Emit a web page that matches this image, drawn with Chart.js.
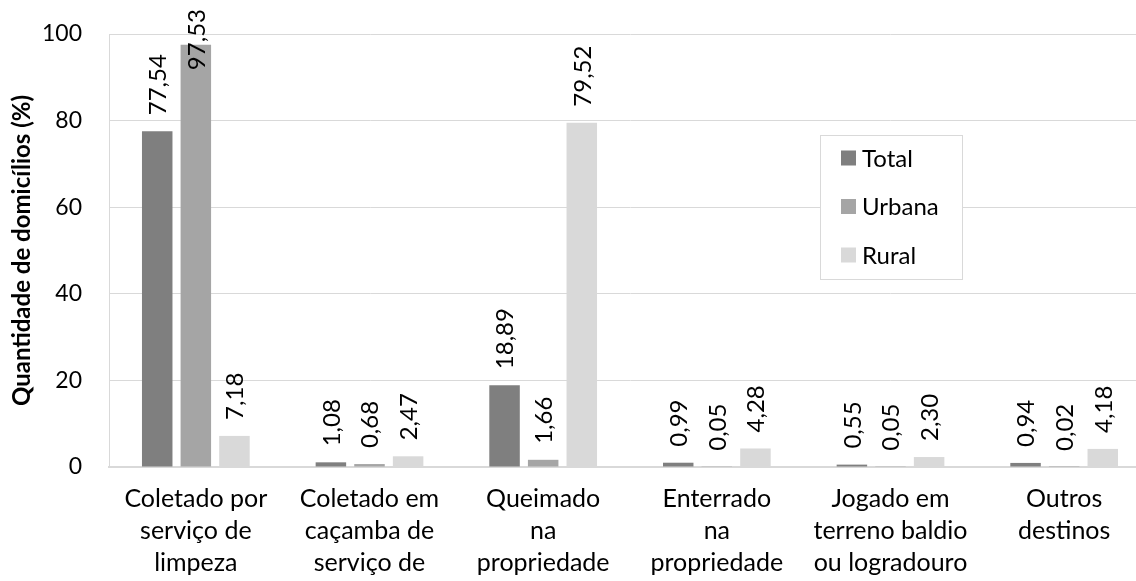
<!DOCTYPE html>
<html lang="pt-BR">
<head>
<meta charset="utf-8">
<title>Destino do lixo nos domicílios</title>
<script src="https://cdn.jsdelivr.net/npm/chart.js@4.4.1/dist/chart.umd.min.js"></script>
<style>
  html, body { margin: 0; padding: 0; background: #ffffff; overflow: hidden; }
  #wrap { position: relative; width: 1151px; height: 640px; }
</style>
</head>
<body>
<div id="wrap"><canvas id="chart" width="1151" height="640"></canvas></div>
<script>
// Destino do lixo (%), por situação do domicílio
const categories = [
  ['Coletado por', 'serviço de', 'limpeza'],
  ['Coletado em', 'caçamba de', 'serviço de', 'limpeza'],
  ['Queimado', 'na', 'propriedade'],
  ['Enterrado', 'na', 'propriedade'],
  ['Jogado em', 'terreno baldio', 'ou logradouro'],
  ['Outros', 'destinos']
];
const seriesNames = ['Total', 'Urbana', 'Rural'];
const totalValues  = [77.54, 1.08, 18.89, 0.99, 0.55, 0.94];
const urbanaValues = [97.53, 0.68, 1.66, 0.05, 0.05, 0.02];
const ruralValues  = [7.18, 2.47, 79.52, 4.28, 2.30, 4.18];
const yTicks = [0, 20, 40, 60, 80, 100];

const FONT = 'Lato, "Open Sans", "DejaVu Sans", sans-serif';
const colors = ['#7f7f7f', '#a5a5a5', '#d9d9d9'];

const fmt = v => v.toFixed(2).replace('.', ',');

// Rotated value labels above each bar, kept inside the canvas top
const valueLabels = {
  id: 'valueLabels',
  afterDatasetsDraw(chart) {
    const ctx = chart.ctx;
    ctx.save();
    ctx.font = '24px ' + FONT;
    ctx.fillStyle = '#000000';
    ctx.textAlign = 'left';
    ctx.textBaseline = 'middle';
    chart.data.datasets.forEach((ds, di) => {
      const meta = chart.getDatasetMeta(di);
      meta.data.forEach((bar, i) => {
        const txt = fmt(ds.data[i]);
        const w = ctx.measureText(txt).width;
        let start = bar.y - 16;
        if (start - w < 9) start = 9 + w;
        ctx.save();
        ctx.translate(bar.x + 1, start);
        ctx.rotate(-Math.PI / 2);
        ctx.fillText(txt, 0, 0);
        ctx.restore();
      });
    });
    ctx.restore();
  }
};

// Boxed legend inside the plot area
const boxLegend = {
  id: 'boxLegend',
  afterDraw(chart) {
    const ctx = chart.ctx;
    const x = 820, y = 135, w = 142, h = 144;
    ctx.save();
    ctx.fillStyle = '#ffffff';
    ctx.fillRect(x, y, w, h);
    ctx.strokeStyle = '#d9d9d9';
    ctx.lineWidth = 1;
    ctx.strokeRect(x + 0.5, y + 0.5, w, h);
    ctx.font = '24px ' + FONT;
    ctx.textAlign = 'left';
    ctx.textBaseline = 'middle';
    chart.data.datasets.forEach((ds, i) => {
      const cy = y + 23 + i * 48.5;
      ctx.fillStyle = ds.backgroundColor;
      ctx.fillRect(x + 21, cy - 7.5, 15, 15);
      ctx.fillStyle = '#000000';
      ctx.fillText(ds.label, x + 42, cy + 1);
    });
    ctx.restore();
  }
};

const datasets = [totalValues, urbanaValues, ruralValues].map((vals, i) => ({
  label: seriesNames[i],
  data: vals,
  backgroundColor: colors[i],
  borderWidth: 0,
  categoryPercentage: 0.667,
  barPercentage: 0.79
}));

new Chart(document.getElementById('chart'), {
  type: 'bar',
  data: { labels: categories, datasets },
  options: {
    responsive: false,
    devicePixelRatio: 1,
    animation: false,
    layout: { padding: { top: 34, left: 0, right: 0, bottom: 0 } },
    plugins: {
      legend: { display: false },
      tooltip: { enabled: false }
    },
    scales: {
      x: {
        grid: { display: false, drawTicks: false },
        border: { display: true, color: '#d9d9d9', width: 2 },
        ticks: {
          color: '#000000',
          font: { family: FONT, size: 25, lineHeight: 1.28 },
          padding: 16,
          maxRotation: 0,
          autoSkip: false
        },
        afterFit(scale) { scale.height = 173; }
      },
      y: {
        min: 0,
        max: 100,
        afterBuildTicks(scale) { scale.ticks = yTicks.map(v => ({ value: v })); },
        grid: { color: '#d9d9d9', lineWidth: 1, drawTicks: false },
        border: { display: true, color: '#d9d9d9', width: 1 },
        ticks: {
          color: '#000000',
          font: { family: FONT, size: 23 },
          padding: 27
        },
        title: {
          display: true,
          text: 'Quantidade de domicílios (%)',
          color: '#000000',
          font: { family: FONT, size: 24, weight: 'bold' },
          padding: { top: 8, bottom: 0 }
        },
        afterFit(scale) {
          scale.width = 109;
          scale.paddingTop = 0;
          scale.paddingBottom = 0;
        }
      }
    }
  },
  plugins: [valueLabels, boxLegend]
});
</script>
</body>
</html>
